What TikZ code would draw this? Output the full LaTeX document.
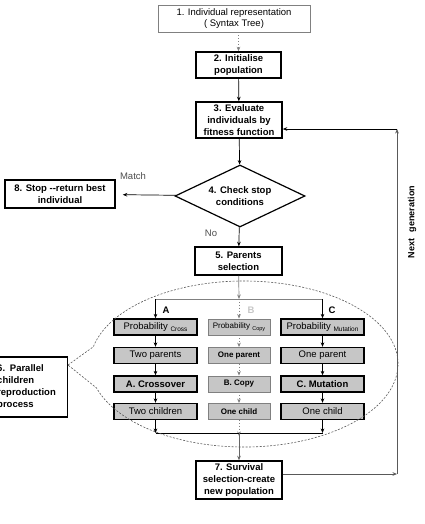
\documentclass[tikz,border=0pt]{standalone}
\usepackage{fontspec}
\setmainfont{Liberation Sans}
\usetikzlibrary{shapes.geometric,arrows.meta}

\tikzset{
  stepbox/.style={draw, line width=1.5pt, fill=white, align=center, inner sep=0pt,
    font=\fontsize{9.5}{12}\selectfont\bfseries},
  reprbox/.style={draw=gray, line width=0.8pt, fill=white, align=center, inner sep=0pt},
  checkdia/.style={diamond, draw, line width=1.2pt, aspect=2.1, inner sep=0pt,
    minimum width=130, minimum height=62, align=center,
    font=\fontsize{9.5}{12}\selectfont\bfseries},
  opbox/.style={draw, line width=1.3pt, fill=gray!45, minimum width=83,
    minimum height=16, inner sep=0pt},
  copybox/.style={draw=gray, line width=0.8pt, fill=gray!45, minimum width=62,
    minimum height=16, inner sep=0pt, font=\fontsize{8}{9}\selectfont\bfseries},
  lbl/.style={text=black!70, inner sep=0pt},
}

\begin{document}
\begin{tikzpicture}[>={Stealth[length=4.5pt,width=3.6pt]}, x=1pt, y=-1pt, line width=0.7pt,
  every node/.append style={font=\fontsize{9.5}{11.7}\selectfont}]
  \useasboundingbox (0,0) rectangle (425,524);
  \clip (0,0) rectangle (425,524);

  % main steps
  \node[reprbox, minimum width=152, minimum height=27] (repr) at (234,18.5)
    {1. Individual representation\\( Syntax Tree)};
  \node[stepbox, minimum width=85, minimum height=26] (init) at (238.5,65)
    {2. Initialise\\population};
  \node[stepbox, minimum width=86, minimum height=36] (eval) at (239,120)
    {3. Evaluate\\individuals by\\fitness function};
  \node[checkdia] (check) at (240,196) {4. Check stop\\conditions};
  \node[stepbox, minimum width=110, minimum height=28] (stop) at (60,194)
    {8. Stop -{}-return best\\individual};
  \node[stepbox, minimum width=87, minimum height=28] (parents) at (238.5,261)
    {5. Parents\\selection};
  \node[stepbox, minimum width=86, minimum height=38] (survive) at (239,480)
    {7. Survival\\selection-create\\new population};
  \node[stepbox, anchor=east, minimum height=60, text width=67, align=left,
    inner xsep=3pt] (parallel) at (68,387)
    {6. Parallel\\children\\reproduction\\process};

  % reproduction columns
  \node[opbox] (probA) at (155.5,327)
    {Probability \raisebox{-2pt}{\fontsize{6.5}{7}\selectfont Cross}};
  \node[opbox] (parA) at (155.5,355.5) {Two parents};
  \node[opbox, font=\fontsize{9.5}{11}\selectfont\bfseries] (opA) at (155.5,384) {A. Crossover};
  \node[opbox] (kidA) at (155.5,411.5) {Two children};

  \node[copybox, font=\fontsize{8}{9}\selectfont] (probB) at (239,327)
    {Probability \raisebox{-1.5pt}{\fontsize{5.5}{6}\selectfont Copy}};
  \node[copybox] (parB) at (239,355.5) {One parent};
  \node[copybox] (opB) at (239,384) {B. Copy};
  \node[copybox] (kidB) at (239,411.5) {One child};

  \node[opbox] (probC) at (322.5,327)
    {Probability \raisebox{-2pt}{\fontsize{6.5}{7}\selectfont Mutation}};
  \node[opbox] (parC) at (322.5,355.5) {One parent};
  \node[opbox, font=\fontsize{9.5}{11}\selectfont\bfseries] (opC) at (322.5,384) {C. Mutation};
  \node[opbox] (kidC) at (322.5,411.5) {One child};

  \coordinate (splitA) at (155.5,299);
  \coordinate (splitB) at (239,299);
  \coordinate (splitC) at (322.5,299);
  \coordinate (joinA) at (155.5,433);
  \coordinate (joinB) at (239,433);
  \coordinate (joinC) at (322.5,433);
  \coordinate (loopb) at (397,474);
  \coordinate (loopt) at (397,129);
  \coordinate (tip) at (68,365);

  % connectors
  \draw[->, dotted, gray, line width=0.9pt] (init.north |- repr.south) -- (init.north);
  \draw[->] (init) -- (eval);
  \draw[->] (eval) -- (check);
  \draw[->, shorten >=7pt] (check) -- (stop);
  \draw[->] (check) -- (parents);
  \node[lbl] (match) at (133,176) {Match};
  \node[lbl] (no) at (211,233) {No};

  \draw[->, gray] (parents) -- (splitB);
  \draw[gray] (splitA) -- (splitC);
  \draw[->] (splitA) -- (probA);
  \draw[->, dotted, gray, line width=0.9pt] (splitB) -- (probB);
  \draw[->] (splitC) -- (probC);
  \node[font=\fontsize{9.5}{11}\selectfont\bfseries] (labA) at (166,310) {A};
  \node[font=\fontsize{9.5}{11}\selectfont\bfseries, text=gray!45] (labB) at (251,310) {B};
  \node[font=\fontsize{9.5}{11}\selectfont\bfseries] (labC) at (332,310) {C};

  \foreach \c in {A,C} {
    \draw[->] (prob\c) -- (par\c);
    \draw[->] (par\c) -- (op\c);
    \draw[->] (op\c) -- (kid\c);
    \draw[->] (kid\c) -- (join\c);
  }
  \draw[->, dotted, gray, line width=0.9pt] (probB) -- (parB);
  \draw[->, dotted, gray, line width=0.9pt] (parB) -- (opB);
  \draw[->, dotted, gray, line width=0.9pt] (opB) -- (kidB);
  \draw[->, dotted, gray, line width=0.9pt] (kidB) -- ([yshift=-3pt]joinB);
  \draw (joinA) -- (joinC);
  \draw[->, gray!80!black] (joinB) -- (survive);

  % next generation loop
  \draw[->, gray!70!black] (survive.east |- loopb) -- (loopb);
  \draw[->, gray!70!black] (loopb) -- (loopt);
  \draw[->] (loopt) -- (eval.east |- loopt);
  \node[rotate=90, font=\fontsize{9}{11}\selectfont\bfseries] (nextgen) at (412,222)
    {Next\hspace{4pt} generation};

  % callout round the parallel reproduction
  \draw[gray!70!black, line width=0.6pt, dash pattern=on 2pt off 1.5pt]
    (tip) -- ([shift={(192:154 and 83)}]244,364)
    arc[start angle=192, end angle=523.2, x radius=154, y radius=83] -- cycle;
\end{tikzpicture}
\end{document}
